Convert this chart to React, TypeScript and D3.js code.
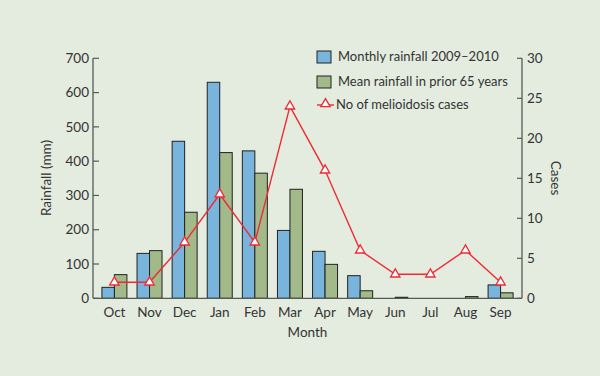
import React from "react";
import * as d3 from "d3";

const months = ["Oct", "Nov", "Dec", "Jan", "Feb", "Mar", "Apr", "May", "Jun", "Jul", "Aug", "Sep"];
const rainfall2009 = [32, 131, 458, 630, 430, 198, 137, 66, 0, 0, 0, 39];
const rainfallMean = [69, 139, 251, 425, 365, 318, 99, 22, 3, 0, 5, 16];
const cases = [2, 2, 7, 13, 7, 24, 16, 6, 3, 3, 6, 2];
const rainTicks = [0, 100, 200, 300, 400, 500, 600, 700];
const caseTicks = [0, 5, 10, 15, 20, 25, 30];

const W = 600, H = 376;
const left = 93, right = 522, top = 58.3, bottom = 298.3;
const FONT = "Lato, sans-serif";
const FS = 13.5;
const LFS = 13;
const BG = "#e4ece0";
const BLUE = "#78b4dc";
const GREEN = "#a2b98a";
const RED = "#ee2a33";
const AXIS = "#555a55";
const TEXT = "#333";

export default function App() {
  const x = d3.scaleBand<string>().domain(months).range([left, right]).paddingInner(0.288).paddingOuter(0.254);
  const yR = d3.scaleLinear().domain([0, 700]).range([bottom, top]);
  const yC = d3.scaleLinear().domain([0, 30]).range([bottom, top]);
  const bw = x.bandwidth() / 2;
  const cx = (m: string) => (x(m) as number) + x.bandwidth() / 2;
  const line = d3.line<number>().x((_, i) => cx(months[i])).y((d) => yC(d));
  const tri = d3.symbol().type(d3.symbolTriangle).size(38)();

  return (
    <svg width={W} height={H} style={{ position: "fixed", left: 0, top: 0, background: BG }} fontFamily={FONT}>
      <rect x={0} y={0} width={W} height={H} fill={BG} />
      {/* bars */}
      {months.map((m, i) => (
        <g key={m}>
          {rainfall2009[i] > 0 && (
            <rect x={x(m)} y={yR(rainfall2009[i])} width={bw} height={bottom - yR(rainfall2009[i])}
              fill={BLUE} stroke="#222" strokeWidth={1} />
          )}
          {rainfallMean[i] > 0 && (
            <rect x={(x(m) as number) + bw} y={yR(rainfallMean[i])} width={bw} height={bottom - yR(rainfallMean[i])}
              fill={GREEN} stroke="#222" strokeWidth={1} />
          )}
        </g>
      ))}
      {/* axes */}
      <line x1={left} x2={left} y1={top} y2={bottom} stroke={AXIS} strokeWidth={1.3} />
      <line x1={right} x2={right} y1={top} y2={bottom} stroke={AXIS} strokeWidth={1.3} />
      <line x1={left} x2={right} y1={bottom} y2={bottom} stroke={AXIS} strokeWidth={1.3} />
      {rainTicks.map((t) => (
        <g key={"r" + t}>
          <line x1={left} x2={left + 6} y1={yR(t)} y2={yR(t)} stroke={AXIS} strokeWidth={1.2} />
          <text x={left - 4} y={yR(t)} dy="0.35em" textAnchor="end" fontSize={FS} fill={TEXT}>{t}</text>
        </g>
      ))}
      {caseTicks.map((t) => (
        <g key={"c" + t}>
          <line x1={right - 5} x2={right} y1={yC(t)} y2={yC(t)} stroke={AXIS} strokeWidth={1.2} />
          <text x={right + 5} y={yC(t)} dy="0.35em" textAnchor="start" fontSize={FS} fill={TEXT}>{t}</text>
        </g>
      ))}
      {months.map((m) => (
        <text key={"m" + m} x={cx(m)} y={317} textAnchor="middle" fontSize={FS} fill={TEXT}>{m}</text>
      ))}
      <text x={(left + right) / 2} y={337} textAnchor="middle" fontSize={FS} fill={TEXT}>Month</text>
      <text transform={`translate(51,178) rotate(-90)`} textAnchor="middle" fontSize={FS} fill={TEXT}>Rainfall (mm)</text>
      <text transform={`translate(551,178) rotate(90)`} textAnchor="middle" fontSize={FS} fill={TEXT}>Cases</text>
      {/* line */}
      <path d={line(cases) as string} fill="none" stroke={RED} strokeWidth={1.4} />
      {cases.map((c, i) => (
        <path key={"t" + i} d={tri as string} transform={`translate(${cx(months[i])},${yC(c)})`} fill="#fff" stroke={RED} strokeWidth={1.3} />
      ))}
      {/* legend */}
      <rect x={317} y={51} width={14} height={12} fill={BLUE} stroke="#222" />
      <text x={338} y={61} fontSize={LFS} fill={TEXT}>Monthly rainfall 2009–2010</text>
      <rect x={317} y={76} width={14} height={12} fill={GREEN} stroke="#222" />
      <text x={338} y={86} fontSize={LFS} fill={TEXT}>Mean rainfall in prior 65 years</text>
      <line x1={317} x2={334} y1={105} y2={105} stroke={RED} strokeWidth={1.4} />
      <path d={tri as string} transform="translate(325.5,104)" fill="#fff" stroke={RED} strokeWidth={1.3} />
      <text x={336} y={109} fontSize={LFS} fill={TEXT}>No of melioidosis cases</text>
    </svg>
  );
}
